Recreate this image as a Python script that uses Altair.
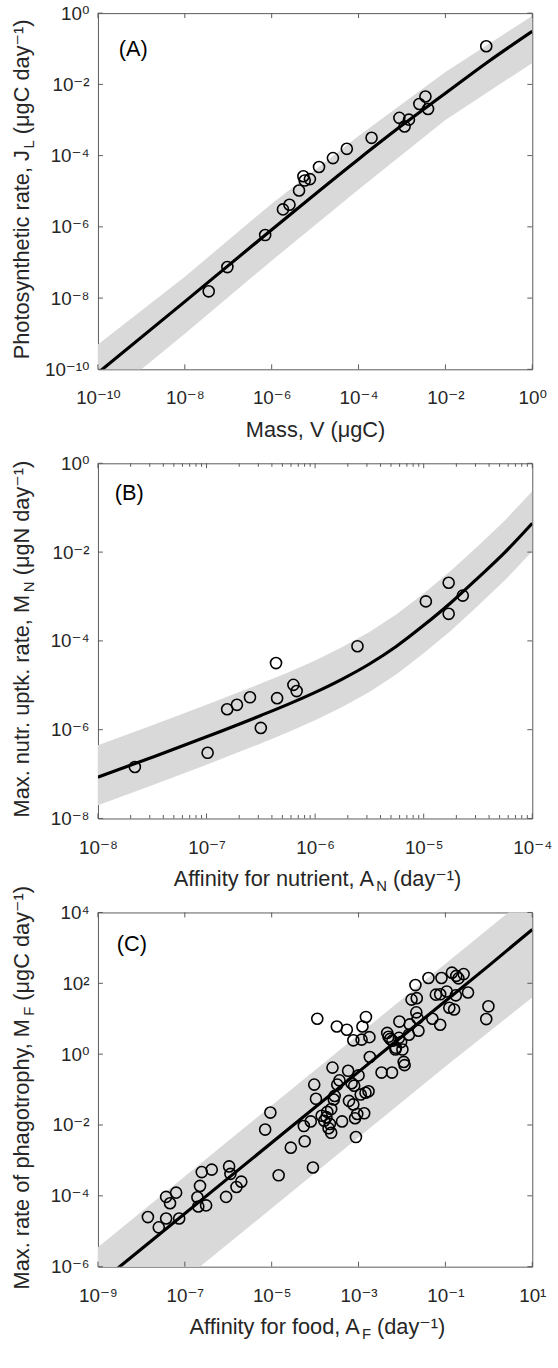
import altair as alt
import pandas as pd

FONT = "Liberation Sans, Arial, DejaVu Sans"
TXT = "#262626"
FRAME = "#5a5a5a"
BAND = "#d9d9d9"
W = 439
LFS = 19   # tick label size
TFS = 22   # axis title size
SFS = 15   # subscript size

# ---------------- Panel A (log10 values) ----------------
A_X_PTS = [-7.45, -7.02, -6.15, -5.74, -5.59, -5.37, -5.27, -5.24, -5.12, -4.91,
           -4.59, -4.27, -3.70, -3.06, -2.94, -2.84, -2.60, -2.46, -2.40, -1.06]
A_Y_PTS = [-7.81, -7.13, -6.23, -5.51, -5.38, -4.98, -4.58, -4.70, -4.66, -4.32,
           -4.07, -3.81, -3.50, -2.94, -3.18, -2.99, -2.55, -2.34, -2.69, -0.93]
A_FIT_X = [-10, -8, -6, -4, -3, -2, -1, 0]
A_FIT_Y = [-10.1, -8.1, -6.08, -4.1, -3.15, -2.25, -1.35, -0.51]
A_BAND_X = [-10, -8, -6, -4, -2, 0]
A_BAND_HI = [-9.3, -7.4, -5.35, -3.45, -1.65, -0.08]
A_BAND_LO = [-11.0, -9.0, -6.95, -4.95, -3.0, -1.4]
A_XT = [-10, -8, -6, -4, -2, 0]
A_YT = [-10, -8, -6, -4, -2, 0]

# ---------------- Panel B ----------------
B_X_PTS = [-7.66, -6.99, -6.81, -6.72, -6.60, -6.50, -6.36, -6.35, -6.20, -6.17,
           -5.61, -4.98, -4.77, -4.77, -4.64]
B_Y_PTS = [-6.84, -6.52, -5.54, -5.44, -5.27, -5.96, -4.50, -5.29, -4.99, -5.13,
           -4.12, -3.11, -2.69, -3.39, -2.98]
B_FIT_X = [-8, -7.5, -7, -6.5, -6.25, -6, -5.75, -5.5, -5.25, -5, -4.75, -4.5, -4.25, -4]
B_FIT_Y = [-7.07, -6.62, -6.16, -5.68, -5.43, -5.16, -4.86, -4.52, -4.12, -3.65,
           -3.14, -2.58, -2.0, -1.35]
B_BAND_X = [-8, -7.5, -7, -6.5, -6.25, -6, -5.75, -5.5, -5.25, -5, -4.75, -4.5, -4.25, -4]
B_BAND_HI = [-6.35, -5.90, -5.44, -4.96, -4.71, -4.44, -4.14, -3.80, -3.40, -2.93,
             -2.42, -1.86, -1.28, -0.63]
B_BAND_LO = [-7.70, -7.25, -6.79, -6.31, -6.06, -5.79, -5.49, -5.15, -4.75, -4.28,
             -3.77, -3.21, -2.63, -1.98]
B_XT = [-8, -7, -6, -5, -4]
B_YT = [-8, -6, -4, -2, 0]
B_XMINOR = [d + m for d in [-8, -7, -6, -5] for m in
            [0.30103, 0.47712, 0.60206, 0.69897, 0.77815, 0.84510, 0.90309, 0.95424]]

# ---------------- Panel C ----------------
C_X_PTS = [-7.85, -7.60, -7.43, -7.43, -7.34, -7.20, -7.13, -6.71, -6.69, -6.65,
           -6.61, -6.51, -6.38, -6.05, -5.98, -5.95, -5.81, -5.70,
           -5.15, -5.03, -4.56, -4.24, -4.05, -4.84, -4.26, -4.10, -4.02, -3.98,
           -3.95, -3.85, -3.79, -3.74, -3.72, -3.69, -3.66, -3.63, -3.63, -3.60,
           -3.57, -3.55, -3.49, -3.44, -3.38, -3.24, -3.22, -3.16, -3.12, -3.08,
           -3.06, -3.03, -3.00, -2.95, -2.87, -2.84, -2.77, -3.10, -2.83, -2.91,
           -2.93, -3.12, -2.75, -3.50, -3.27, -2.74, -2.47, -2.23,
           -2.34, -2.31, -2.27, -2.22, -2.15, -2.14, -2.07, -2.06, -2.02, -1.96,
           -1.94, -1.99, -1.84, -1.82, -1.78, -1.69, -1.66, -1.67, -1.64, -1.62,
           -1.39, -1.30, -1.22, -1.12, -1.12, -1.09, -0.97, -0.91, -0.85, -0.80,
           -0.76, -0.75, -0.70, -0.58, -0.48, -0.01, -0.06]
C_Y_PTS = [-4.60, -4.89, -4.64, -4.03, -4.21, -3.91, -4.64, -4.04, -4.30, -3.72,
           -3.33, -4.27, -3.26, -4.03, -3.17, -3.38, -3.75, -3.60,
           -2.13, -1.65, -2.64, -2.46, -3.20, -3.42, -2.03, -1.90, -0.86, -1.26,
           1.00, -1.74, -1.88, -1.78, -1.63, -2.09, -1.97, -2.22, -1.55, -0.38,
           -1.28, -1.18, -0.86, -0.74, -1.90, -0.47, -1.32, -0.82, -1.42, -1.81,
           -2.34, -1.69, -0.60, -1.14, -1.67, -1.09, -1.05, -0.89, 1.05, 0.78,
           0.41, 0.39, 0.48, 0.78, 0.69, -0.08, -0.52, -0.52,
           0.60, 0.49, 0.43, 0.38, 0.13, 0.18, 0.46, 0.92, 0.34, -0.22,
           -0.31, 0.13, 0.55, 0.84, 1.54, 1.95, 1.58, 1.18, 1.01, 0.66,
           2.15, 1.00, 1.68, 0.83, 1.69, 2.15, 1.77, 1.31, 2.30, 1.26,
           1.66, 2.21, 2.14, 2.26, 1.74, 1.35, 0.99]
C_FIT_X = [-9, -6, -3, 0, 1]
C_FIT_Y = [-6.5, -3.5, -0.5, 2.5, 3.52]
C_BAND_X = [-9, -5, -1, 1]
C_BAND_HI = [-5.45, -1.45, 2.55, 4.55]
C_BAND_LO = [-8.35, -4.35, -0.35, 1.6]
C_XT = [-9, -7, -5, -3, -1, 1]
C_YT = [-6, -4, -2, 0, 2, 4]

# ---------------- helpers ----------------
SUP = str.maketrans("-0123456789", "⁻⁰¹²³⁴⁵⁶⁷⁸⁹")
AW = {" ": 278, "(": 333, ")": 333, ",": 278, ".": 278, "A": 667, "J": 500,
      "M": 833, "P": 667, "a": 556, "c": 500, "d": 556, "e": 556, "f": 278, "g": 556,
      "h": 556, "i": 222, "k": 500, "n": 556, "o": 556, "p": 556, "r": 333, "s": 500,
      "t": 278, "u": 556, "x": 500, "y": 500, "l": 222, "m": 833, "N": 722, "C": 722,
      "F": 611, "L": 556, "V": 667, "μ": 576, "⁻": 333, "¹": 333}


def tw(s, size):
    return sum(AW.get(c, 556) for c in s) / 1000.0 * size


def lab_expr(exps):
    e = "round(log(datum.value)/LN10)"
    s = "''"
    for k in reversed(exps):
        s = f"({e} == {k}) ? '10{str(k).translate(SUP)}' : {s}"
    return s


def text_layer(t, x, y, size, angle=0):
    kw = dict(font=FONT, fontSize=size, color=TXT, align="left", baseline="middle")
    if angle:
        kw["angle"] = angle
    return alt.Chart(pd.DataFrame({"t": [t]})).mark_text(**kw).encode(
        text="t:N", x=alt.value(x), y=alt.value(y))


def panel(h, xdom, ydom, xt, yt, xminor, px, py, fx, fy, bx, bhi, blo,
          xtitle, ytitle, tag, tag_x, tag_y):
    xs = alt.Scale(type="log", domain=[10.0 ** xdom[0], 10.0 ** xdom[1]], nice=False)
    ys = alt.Scale(type="log", domain=[10.0 ** ydom[0], 10.0 ** ydom[1]], nice=False)

    XTY = 61
    YTX = -77
    SP = tw(" ", TFS)
    xpre, xsub, xsuf = xtitle
    ypre, ysub, ysuf = ytitle

    def total(pre, sub, suf):
        if not sub:
            return tw(pre, TFS)
        return tw(pre, TFS) + 1 + tw(sub, SFS) + SP + tw(suf, TFS)

    x_start = W / 2 - total(xpre, xsub, xsuf) / 2
    y_start = h / 2 + total(ypre, ysub, ysuf) / 2

    xaxis = alt.Axis(values=[10.0 ** k for k in xt], labelExpr=lab_expr(xt), ticks=False,
                     tickSize=0, domain=False, grid=False, labelFont=FONT, labelFontSize=LFS,
                     labelColor=TXT, labelPadding=20, labelFlush=False, labelOverlap=False,
                     labelBound=False, title=xpre, titleFont=FONT, titleFontSize=TFS,
                     titleFontWeight="normal", titleColor=TXT, titleAlign="left",
                     titleBaseline="middle", titleX=x_start, titleY=XTY, titleAngle=0)
    yaxis = alt.Axis(values=[10.0 ** k for k in yt], labelExpr=lab_expr(yt), ticks=False,
                     tickSize=0, domain=False, grid=False, labelFont=FONT, labelFontSize=LFS,
                     labelColor=TXT, labelPadding=9, labelFlush=False, labelOverlap=False,
                     labelBound=False, title=ypre, titleFont=FONT, titleFontSize=TFS,
                     titleFontWeight="normal", titleColor=TXT, titleAlign="left",
                     titleBaseline="middle", titleX=YTX, titleY=y_start, titleAngle=270)

    band_df = pd.DataFrame({"x": [10.0 ** v for v in bx], "hi": [10.0 ** v for v in bhi],
                            "lo": [10.0 ** v for v in blo]})
    fit_df = pd.DataFrame({"x": [10.0 ** v for v in fx], "y": [10.0 ** v for v in fy]})
    pts_df = pd.DataFrame({"x": [10.0 ** v for v in px], "y": [10.0 ** v for v in py]})

    band = alt.Chart(band_df).mark_area(color=BAND, clip=True).encode(
        x=alt.X("x:Q", scale=xs, axis=xaxis),
        y=alt.Y("lo:Q", scale=ys, axis=yaxis),
        y2="hi:Q")
    fit = alt.Chart(fit_df).mark_line(color="black", strokeWidth=3.2, clip=True,
                                      interpolate="monotone").encode(
        x=alt.X("x:Q", scale=xs), y=alt.Y("y:Q", scale=ys))
    pts = alt.Chart(pts_df).mark_point(shape="circle", filled=False, color="black",
                                       size=125, strokeWidth=1.6, opacity=1).encode(
        x=alt.X("x:Q", scale=xs), y=alt.Y("y:Q", scale=ys))

    xt_df = pd.DataFrame({"v": [10.0 ** k for k in xt]})
    yt_df = pd.DataFrame({"v": [10.0 ** k for k in yt]})
    layers = [band, fit, pts]
    for y0, y1 in [(h, h - 5), (0, 5)]:
        layers.append(alt.Chart(xt_df).mark_rule(color=FRAME, strokeWidth=1).encode(
            x=alt.X("v:Q", scale=xs), y=alt.value(y0), y2=alt.value(y1)))
    for x0, x1 in [(0, 5), (W, W - 5)]:
        layers.append(alt.Chart(yt_df).mark_rule(color=FRAME, strokeWidth=1).encode(
            y=alt.Y("v:Q", scale=ys), x=alt.value(x0), x2=alt.value(x1)))
    if xminor:
        mn_df = pd.DataFrame({"v": [10.0 ** k for k in xminor]})
        for y0, y1 in [(h, h - 3.5), (0, 3.5)]:
            layers.append(alt.Chart(mn_df).mark_rule(color=FRAME, strokeWidth=1).encode(
                x=alt.X("v:Q", scale=xs), y=alt.value(y0), y2=alt.value(y1)))

    tagl = alt.Chart(pd.DataFrame({"t": [tag]})).mark_text(
        font=FONT, fontSize=TFS, color="black", align="left", baseline="middle").encode(
        text="t:N", x=alt.value(tag_x), y=alt.value(tag_y))
    layers.append(tagl)
    if xsub:
        sx = x_start + tw(xpre, TFS) + 1
        layers.append(text_layer(xsub, sx, h + XTY + 7, SFS))
        layers.append(text_layer(xsuf, sx + tw(xsub, SFS) + SP, h + XTY, TFS))
    if ysub:
        sy = y_start - tw(ypre, TFS) - 1
        layers.append(text_layer(ysub, YTX + 7, sy, SFS, 270))
        layers.append(text_layer(ysuf, YTX, sy - tw(ysub, SFS) - SP, TFS, 270))

    return alt.layer(*layers).properties(width=W, height=h)


pA = panel(360, (-10, 0), (-10, 0), A_XT, A_YT, None, A_X_PTS, A_Y_PTS, A_FIT_X, A_FIT_Y,
           A_BAND_X, A_BAND_HI, A_BAND_LO,
           ("Mass, V (μgC)", None, ""),
           ("Photosynthetic rate, J", "L", "(μgC day⁻¹)"), "(A)", 21, 36)
pB = panel(359, (-8, -4), (-8, 0), B_XT, B_YT, B_XMINOR, B_X_PTS, B_Y_PTS, B_FIT_X, B_FIT_Y,
           B_BAND_X, B_BAND_HI, B_BAND_LO,
           ("Affinity for nutrient, A", "N", "(day⁻¹)"),
           ("Max. nutr. uptk. rate, M", "N", "(μgN day⁻¹)"), "(B)", 17, 30)
pC = panel(358, (-9, 1), (-6, 4), C_XT, C_YT, None, C_X_PTS, C_Y_PTS, C_FIT_X, C_FIT_Y,
           C_BAND_X, C_BAND_HI, C_BAND_LO,
           ("Affinity for food, A", "F", "(day⁻¹)"),
           ("Max. rate of phagotrophy, M", "F", "(μgC day⁻¹)"), "(C)", 19, 32)

chart = alt.vconcat(pA, pB, pC, spacing=95, bounds="flush").properties(
    padding={"left": 10, "top": -4, "right": 5, "bottom": 5}, background="white"
).configure_view(stroke=FRAME, strokeWidth=1)

chart.save("out.html", embed_options={"renderer": "svg", "actions": False})
